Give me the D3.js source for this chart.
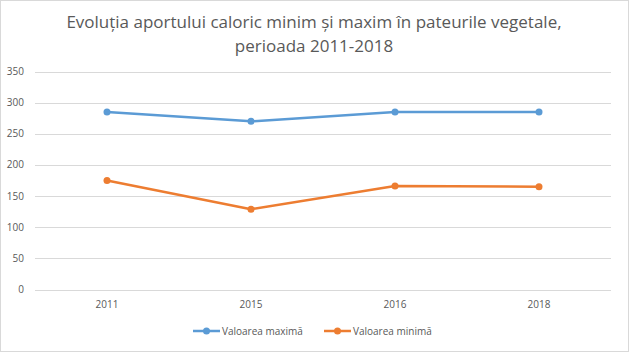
<!DOCTYPE html>
<html>
  <head>
    <meta charset="utf-8" />
    <title>Evoluția aportului caloric</title>
    <script src="https://d3js.org/d3.v7.min.js"></script>
    <style>
      body { margin: 0; background: #fff; }
      text { font-family: "Open Sans", "Noto Sans", sans-serif; fill: #595959; }
    </style>
  </head>
  <body>
    <svg id="chart" width="629" height="352"></svg>

    <script>
      var years = ["2011", "2015", "2016", "2018"];
      var maxValues = [285, 270, 285, 285];
      var minValues = [175, 129, 166, 165];
      var yTicks = [0, 50, 100, 150, 200, 250, 300, 350];
      var seriesNames = ["Valoarea maximă", "Valoarea minimă"];
      var colors = ["#5B9BD5", "#ED7D31"];

      var svg = d3.select("#chart");

      // outer border
      svg.append("rect")
        .attr("x", 0.5).attr("y", 0.5)
        .attr("width", 628).attr("height", 351)
        .attr("fill", "#fff")
        .attr("stroke", "#d9d9d9");

      var x = d3.scaleBand().domain(years).range([35, 611]);
      var y = d3.scaleLinear().domain([0, 350]).range([289.5, 71.5]);

      // title
      var title = svg.append("text")
        .attr("text-anchor", "middle")
        .attr("font-size", 17);
      title.append("tspan").attr("x", 314).attr("y", 28)
        .text("Evoluția aportului caloric minim și maxim în pateurile vegetale,");
      title.append("tspan").attr("x", 314).attr("y", 52)
        .text("perioada 2011-2018");

      // gridlines
      svg.append("g")
        .selectAll("line")
        .data(yTicks)
        .enter()
        .append("line")
        .attr("x1", 35)
        .attr("x2", 611)
        .attr("y1", function (d) { return Math.round(y(d)) + 0.5; })
        .attr("y2", function (d) { return Math.round(y(d)) + 0.5; })
        .style("stroke", "#d9d9d9")
        .style("stroke-width", 1);

      // y labels
      svg.append("g")
        .selectAll("text")
        .data(yTicks)
        .enter()
        .append("text")
        .attr("x", 24)
        .attr("y", function (d) { return y(d); })
        .attr("dy", "0.35em")
        .attr("text-anchor", "end")
        .attr("font-size", 10)
        .text(function (d) { return d; });

      // x labels
      svg.append("g")
        .selectAll("text")
        .data(years)
        .enter()
        .append("text")
        .attr("x", function (d) { return x(d) + x.bandwidth() / 2; })
        .attr("y", 308)
        .attr("text-anchor", "middle")
        .attr("font-size", 10)
        .text(function (d) { return d; });

      var series = [maxValues, minValues];

      var line = d3.line()
        .x(function (d, i) { return x(years[i]) + x.bandwidth() / 2; })
        .y(function (d) { return y(d); });

      series.forEach(function (values, s) {
        svg.append("path")
          .datum(values)
          .attr("d", line)
          .attr("fill", "none")
          .attr("stroke", colors[s])
          .attr("stroke-width", 2.5)
          .attr("stroke-linejoin", "round")
          .attr("stroke-linecap", "round");

        svg.append("g")
          .selectAll("circle")
          .data(values)
          .enter()
          .append("circle")
          .attr("cx", function (d, i) { return x(years[i]) + x.bandwidth() / 2; })
          .attr("cy", function (d) { return y(d); })
          .attr("r", 3.5)
          .style("fill", colors[s]);
      });

      // legend
      var legendX = [193, 324];
      seriesNames.forEach(function (name, s) {
        var g = svg.append("g").attr("transform", "translate(" + legendX[s] + ",331)");
        g.append("line")
          .attr("x1", 0).attr("x2", 27)
          .attr("y1", 0).attr("y2", 0)
          .attr("stroke", colors[s])
          .attr("stroke-width", 2.5);
        g.append("circle")
          .attr("cx", 13.5).attr("cy", 0).attr("r", 3.5)
          .style("fill", colors[s]);
        g.append("text")
          .attr("x", 29).attr("y", 0)
          .attr("dy", "0.35em")
          .attr("font-size", 10)
          .text(name);
      });
    </script>
  </body>
</html>
